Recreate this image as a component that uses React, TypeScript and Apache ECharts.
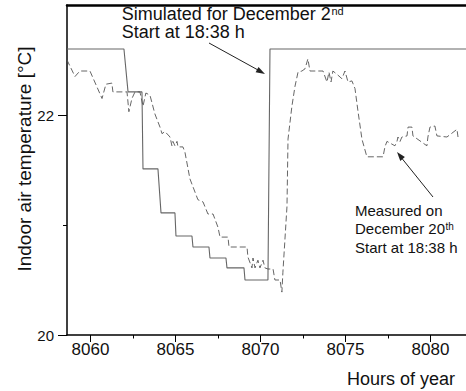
import React, { useEffect, useRef } from "react";
import * as echarts from "echarts";

const FONT = "'Liberation Sans', Arial, Helvetica, sans-serif";

const xMin = 8058.62;
const xMax = 8082.09;
const xTickLabels = [8060, 8065, 8070, 8075, 8080];
const xMinorTicks = [8062.5, 8067.5, 8072.5, 8077.5];
const yTickLabels = [20, 22];
const yMinorTicks = [21];

const simulatedHours = [
  8058.62, 8061.97, 8062.21, 8063.03, 8063.09, 8063.97, 8064.15, 8064.97, 8065.03, 8065.97,
  8066.03, 8066.97, 8067.03, 8067.97, 8068.03, 8069.03, 8069.09, 8070.44, 8070.56, 8082.09,
];
const simulatedTemps = [
  22.6, 22.6, 22.21, 22.21, 21.51, 21.51, 21.11, 21.11, 20.9, 20.9,
  20.8, 20.8, 20.7, 20.7, 20.61, 20.61, 20.5, 20.5, 22.6, 22.6,
];

const measuredHours = [
  8058.62, 8059.09, 8059.38, 8059.97, 8060.68, 8060.91, 8061.26, 8061.32, 8062.15, 8062.26,
  8062.44, 8062.62, 8062.91, 8063.09, 8063.26, 8063.5, 8063.79, 8064.09, 8064.21, 8064.38,
  8064.68, 8064.79, 8064.85, 8064.97, 8065.09, 8065.15, 8065.44, 8065.56, 8065.85, 8066.32,
  8066.62, 8066.91, 8067.21, 8067.5, 8067.62, 8068.09, 8068.15, 8069.21, 8069.26, 8069.5,
  8069.56, 8069.68, 8069.85, 8069.97, 8070.15, 8070.26, 8070.44, 8070.74, 8070.85, 8071.15,
  8071.26, 8071.32, 8071.56, 8071.62, 8071.85, 8072.03, 8072.21, 8072.44, 8072.62, 8072.79,
  8072.91, 8073.68, 8073.91, 8074.03, 8074.15, 8074.26, 8074.5, 8074.79, 8074.97, 8075.15,
  8075.38, 8075.56, 8075.74, 8075.97, 8076.26, 8077.21, 8077.32, 8077.44, 8077.91, 8078.03,
  8078.09, 8078.21, 8078.32, 8078.62, 8078.68, 8078.91, 8078.97, 8079.79, 8079.85, 8079.97,
  8080.26, 8080.38, 8080.97, 8081.56, 8081.62,
];
const measuredTemps = [
  22.5, 22.35, 22.4, 22.4, 22.15, 22.28, 22.29, 22.21, 22.21, 22.03,
  22.15, 22.21, 22.21, 22.08, 22.2, 22.18, 22.01, 21.89, 21.83, 21.85,
  21.8, 21.72, 21.76, 21.72, 21.76, 21.71, 21.71, 21.66, 21.42, 21.23,
  21.21, 21.1, 21.1, 20.98, 20.89, 20.89, 20.8, 20.8, 20.71, 20.61,
  20.7, 20.61, 20.68, 20.61, 20.68, 20.61, 20.6, 20.6, 20.5, 20.5,
  20.39, 20.57, 21.17, 21.78, 22.08, 22.26, 22.39, 22.4, 22.42, 22.51,
  22.4, 22.4, 22.3, 22.39, 22.3, 22.4, 22.37, 22.33, 22.4, 22.3,
  22.31, 22.24, 22.03, 21.78, 21.62, 21.62, 21.71, 21.76, 21.72, 21.76,
  21.8, 21.76, 21.8, 21.81, 21.89, 21.89, 21.81, 21.72, 21.8, 21.89,
  21.9, 21.81, 21.8, 21.87, 21.8,
];

const simulatedData = simulatedHours.map((h, i) => [h, simulatedTemps[i]]);
const measuredData = measuredHours.map((h, i) => [h, measuredTemps[i]]);

export default function App() {
  const ref = useRef<HTMLDivElement>(null);

  useEffect(() => {
    document.body.style.margin = "0";
    if (!ref.current) return;
    const chart = echarts.init(ref.current, null, { renderer: "svg" });

    const textColor = "#111";
    const txt = (
      text: string,
      x: number,
      y: number,
      size: number,
      align: string = "left",
      extra: any = {}
    ) => ({
      type: "text",
      x,
      y,
      ...extra,
      style: {
        text,
        font: `${size}px ${FONT}`,
        fill: textColor,
        textAlign: align,
        textVerticalAlign: "middle",
      },
    });

    chart.setOption({
      animation: false,
      backgroundColor: "#fff",
      grid: { left: 67, right: 0, top: 5, bottom: 56, containLabel: false },
      xAxis: [
        {
          type: "value",
          min: xMin,
          max: xMax,
          position: "bottom",
          axisLine: { show: true, lineStyle: { color: "#000", width: 1.5 } },
          axisTick: { show: true, customValues: xTickLabels, length: 7, lineStyle: { color: "#000", width: 1 } },
          axisLabel: {
            customValues: xTickLabels,
            formatter: (v: number) => String(Math.round(v)),
            margin: 6,
            fontSize: 17,
            fontFamily: FONT,
            color: textColor,
          },
          splitLine: { show: false },
        },
        {
          type: "value",
          min: xMin,
          max: xMax,
          position: "bottom",
          axisLine: { show: false },
          axisTick: { show: true, customValues: xMinorTicks, length: 3.5, lineStyle: { color: "#000", width: 1 } },
          axisLabel: { show: false },
          splitLine: { show: false },
        },
        {
          type: "value",
          min: xMin,
          max: xMax,
          position: "top",
          axisLine: { show: true, lineStyle: { color: "#000", width: 2.5 } },
          axisTick: { show: false },
          axisLabel: { show: false },
          splitLine: { show: false },
        },
      ],
      yAxis: [
        {
          type: "value",
          min: 20,
          max: 23,
          position: "left",
          axisLine: { show: true, lineStyle: { color: "#000", width: 1.5 } },
          axisTick: { show: true, customValues: yTickLabels, length: 9, lineStyle: { color: "#000", width: 1 } },
          axisLabel: {
            customValues: yTickLabels,
            formatter: (v: number) => String(Math.round(v)),
            margin: 13,
            fontSize: 15,
            fontFamily: FONT,
            color: textColor,
          },
          splitLine: { show: false },
        },
        {
          type: "value",
          min: 20,
          max: 23,
          position: "left",
          axisLine: { show: false },
          axisTick: { show: true, customValues: yMinorTicks, length: 4, lineStyle: { color: "#000", width: 1 } },
          axisLabel: { show: false },
          splitLine: { show: false },
        },
      ],
      series: [
        {
          name: "Simulated",
          type: "line",
          xAxisIndex: 0,
          yAxisIndex: 0,
          data: simulatedData,
          symbol: "none",
          lineStyle: { color: "#666", width: 1.1 },
        },
        {
          name: "Measured",
          type: "line",
          xAxisIndex: 0,
          yAxisIndex: 0,
          data: measuredData,
          symbol: "none",
          lineStyle: { color: "#555", width: 0.9, type: [6, 3] },
        },
      ],
      graphic: [
        txt("Indoor air temperature [°C]", 24, 159, 19, "center", { rotation: Math.PI / 2 }),
        txt("Hours of year", 455, 379, 18, "right"),
        txt("Simulated for December 2", 121.7, 13.8, 18),
        txt("nd", 331.5, 11, 11),
        txt("Start at 18:38 h", 121.7, 32.3, 18),
        txt("Measured on", 355, 210.8, 15),
        txt("December 20", 355, 228.8, 15),
        txt("th", 445.5, 226.5, 10),
        txt("Start at 18:38 h", 355, 247.8, 15),
        {
          type: "line",
          shape: { x1: 209, y1: 43, x2: 258, y2: 70 },
          style: { stroke: "#222", lineWidth: 1 },
        },
        {
          type: "polygon",
          shape: { points: [[265, 74], [255.6, 72.2], [258.5, 67.0]] },
          style: { fill: "#222" },
        },
        {
          type: "line",
          shape: { x1: 433, y1: 197, x2: 402, y2: 158.5 },
          style: { stroke: "#222", lineWidth: 1 },
        },
        {
          type: "polygon",
          shape: { points: [[397, 152], [404.9, 157.1], [400.3, 160.9]] },
          style: { fill: "#222" },
        },
      ],
    });

    return () => {
      chart.dispose();
    };
  }, []);

  return <div ref={ref} style={{ width: 466, height: 391 }} />;
}
